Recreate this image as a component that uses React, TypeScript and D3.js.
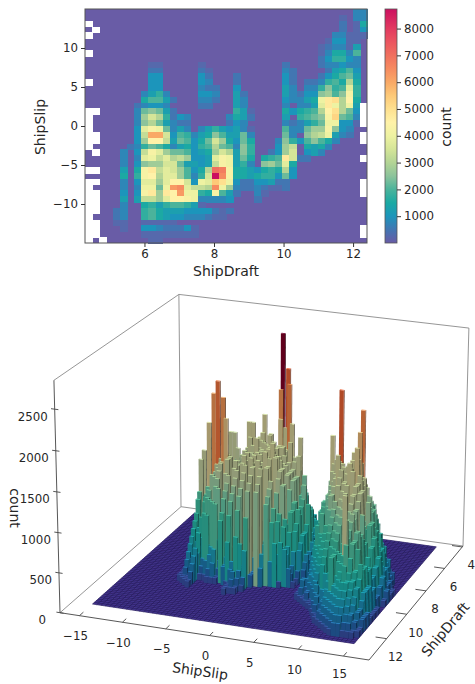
import React, { useEffect, useRef } from 'react';
import * as d3 from 'd3';

// --- heatmap data: 40 x 40 bins, one char per bin in base 36, unit 250 counts, "_" = empty bin
const heatUnit = 250;
const heatRows = [
  '0000000000 0000000000 0000000000 0000000033',
  '0000000000 0000000000 0000000000 0000001033',
  '_000000000 0000000000 0000000000 0000002016',
  '0_00000000 0000000000 0000000000 0000002014',
  '_000000000 0000000000 0000000000 0000033111',
  '0000000000 0000000000 0000000000 0000144110',
  '0000000000 0000000000 0000000000 0001233150',
  '_000000000 0000000000 0000000000 0001366380',
  '0000000000 0000000000 0000000000 0002477430',
  '0000000001 1000001000 0000000020 0002334330',
  '0000000002 2000002100 0000000032 0000256840',
  '0000000004 4000004200 0200000042 0002468950',
  '_000000004 4000004300 0200000042 0223786c60',
  '0000000004 4000003220 0400000053 0337a78f70',
  '0000000035 7300004430 0520000053 244ab8ah70',
  '0000000068 8520003320 0530000043 356gjkci60',
  '0000000234 4300002200 0530000030 335fjgcg5_',
  '__0000039a 9520000000 0751000064 678cikc94_',
  '_0000003be c724300000 3652000050 789ahl983_',
  '_0000003ac 9532200000 2430000032 3579gg441_',
  '_0000004fh g935303575 4531000083 39bbha4300',
  '__000004do oe487356a8 5593000093 0acdg5320_',
  '__000004bi id598469eb 64960003a7 48a863000_',
  '_000002379 86356478c9 83a70004bd 0656300000',
  '0_000304dh fb998456be c5a70024be 0453000000',
  '00000303fg dfcdb445fh g5960678je 220000000_',
  '00000304ab bee95545dh g5730ab9f6 0000000000',
  '__000506hj dfeb846csr h6654676c4 0000000000',
  '00000607hi cffb837ezq h665677494 0000000000',
  '__000304ff bfiie4gfmk g422445220 000000000_',
  '_0000303gg 9gpqfddcqg b322321120 000000000_',
  '__000404hj bjipgg76h8 5200310000 000000000_',
  '__000505dd bfiihg3333 4000200000 0000000000',
  '__00030067 5788751000 0000000000 0000000000',
  '__00230078 6555444421 2000000000 0000000000',
  '_000230078 6544333211 0000000000 0000000000',
  '__00110011 1110000000 0000000000 0000000000',
  '__00010044 3222410000 0000000000 000000000_',
  '__00000011 1111110000 0000000000 000000000_',
  '_0_0000001 1000000000 0000000000 0000000000',
];
const heatDraftDomain = [4.29, 12.4];
const heatSlipDomain = [-15, 15];
const heatDraftTicks = [6, 8, 10, 12];
const heatSlipTicks = [-10, -5, 0, 5, 10];
const countMax = 8730;
const countTicks = [1000, 2000, 3000, 4000, 5000, 6000, 7000, 8000];
const heatColorCounts = [0, 500, 1000, 1500, 2000, 2500, 3000, 3500, 4000, 4500, 5000, 5500, 6000, 6500, 7000, 7500, 8000, 8730];
const heatColors = ['#695ba6', '#4276b2', '#1c95bb', '#1aa9a3', '#4bb39b', '#8cc39b', '#b3d495', '#d5e598', '#eef2a2', '#fff2a8', '#fee08f', '#fdc978', '#f9a966', '#f68b60', '#f0705e', '#eb5560', '#e23a60', '#cc1060'];

// --- 3D histogram data: 60 x 60 bins, unit 80 counts. Rows run from draft bin 52 down to 2,
// and every row holds the slip bins 10..59
const barUnit = 80;
const barBins = 60;
const barFirstSlipBin = 10;
const barFirstDraftBin = 52;
const barRows = [
  '0001010212 1321132121 2101000000 0000000000 0000000000',
  '0001203143 2452143132 3120100000 0000000000 0000000000',
  '0002315263 6274165725 3412010000 0000000000 0000000000',
  '0001342657 3829485927 4625120100 0000000000 0000000000',
  '0001247396 a5b4a93a49 8374210100 0000000000 0000000000',
  '0001358a6b 6cd9c5b7ca 5994632000 0000000000 0000000000',
  '0005iie7cd 9ef6d8c5de 6a94632000 0000000000 0000000000',
  '0004a8ec6d e9fg7d8zgc cb58623100 0000000000 0000000000',
  '00039d7dc8 f7hmf9e5gg 9cb5864200 0000000000 0000000000',
  '000386d9ef b9hig8fciu e8cb575200 0000000000 0000000000',
  '000274c9fa llc8gdh8jk f9dc586300 0000000000 0000000000',
  '00016b7ec9 hd7jhcifrl sf9db57300 0000000000 0000000000',
  '000159c8hg cj8jk7kdi9 hmgke95741 0000000000 0000000000',
  '000156c9e8 h7icjbkj7h i8hfb69642 0000000000 0000000000',
  '0001487c9f g9h5ij6i9n i8gdb58531 1253647332 2100000000',
  '000137a5d9 f6gh9ij8ij j7gfd68532 2375596543 3321000000',
  '0001269b7d 9fg7ki8jij j8khic9643 59me6b9a87 6653210000',
  '0001258a6c d7ff9hh6ij 9ihgfc7a42 6bfh8cb7ca 9857432000',
  '000124796b c8ee9gg7i5 ih7gf9eb52 7c8if9cd7c b6a9864200',
  '0003art8ef g9fcgh7ijj i6hgf9c831 8c9hjuh9ee 7eca853100',
  '002ic8gh9g 7hgh9ih6jj ii8gf5b742 7b8fhj9gf9 fgeda74200',
  '001a6ef8ri h9gi6ij9ik j8hg9ca730 6b7eg9ji8g ch7db85200',
  '002hbn9gho i8hcji7j8k ljh9ecb741 59ce7hi9hi jsgec96310',
  '001c5df9h7 i6hci9j5ij 9jhf7b9630 48b7fh9j8j lk9fd67420',
  '001b6c8fg9 i7i8j5ic9k j7gf9b8520 37a9egl7ij 9pi9da7421',
  '00194bd8f6 g7h4i8j5i6 i7e6a85200 2695df8j6k mlh7da7421',
  '001875c6e9 5g7h4i6ij4 ig5b963100 15ac7f9i6k lni7eb8521',
  '0017594c7e 4f7g5h3i6i 6fca652000 13795d9h6j k8jcfc9631',
  '001636a5c6 4e6f3g5h4h 3ea5763100 12468a9e5i l8ihbca742',
  '0015273a5c 3d5e3f4g2g 5d47100000 02579b6f8i 7kih9ca742',
  '0014342345 2b4d2e3f2f 3000000000 01468a5e7h i5ihc79631',
  '0013251123 1a3b2c3b20 0000000000 0135795d6g h6hge59631',
  '0012140011 1037487600 0000000000 1334684c5f g5hf8a4520',
  '0011130000 0001313200 0000000000 1324574b5e f4gf5a8520',
  '0001120000 0000132100 0000000000 1213463a4d e4fe6b4520',
  '0000110000 0000121000 0000000000 011235394c d4ef5c3741',
  '0000010000 0000111000 0000000000 001214283b c3de5c6741',
  '0000000000 0000100000 0000000000 000113273a b3cd4d3741',
  '0000000000 0000000000 0000000000 0000114263 a3bc5d3851',
  '0000000000 0000000000 0000000000 0000013235 9a4f5c6851',
  '0000000000 0000000000 0000000000 0000002343 89aj6cb851',
  '0000000000 0000000000 0000000000 0000001324 7a9a5c8951',
  '0000000000 0000000000 0000000000 0000000213 6a79ca8752',
  '0000000000 0000000000 0000000000 0000000113 5a68987642',
  '0000000000 0000000000 0000000000 0000000012 4567677632',
  '0000000000 0000000000 0000000000 0000000012 3456776532',
  '0000000000 0000000000 0000000000 0000000001 2345665432',
  '0000000000 0000000000 0000000000 0000000000 1234554321',
  '0000000000 0000000000 0000000000 0000000000 0123443321',
  '0000000000 0000000000 0000000000 0000000000 0012332211',
  '0000000000 0000000000 0000000000 0000000000 0001221110',
];
const barSlipDomain = [-15, 15];
const barDraftDomain = [12.7, 4.3];
const barSlipTicks = [-15, -10, -5, 0, 5, 10, 15];
const barDraftTicks = [12, 10, 8, 6, 4];
const barCountTicks = [0, 500, 1000, 1500, 2000, 2500];
const barCountMax = 2844;
const barColorCounts = [0, 150, 350, 600, 900, 1100, 1300, 1800, 2000, 2200, 2400, 2600, 2800];
const barSideColors = ['#3a2c7a', '#1c4a80', '#14708c', '#1a8a80', '#2f8f78', '#5a9a80', '#8f9a78', '#a39c72', '#b08a5a', '#b86a3a', '#b04a28', '#8a1a20', '#60001e'];
const barCapColors = ['#4a3a90', '#2f7fc0', '#20a8c8', '#2cc0b0', '#50c8a0', '#90d8a0', '#c8e0a0', '#d8e4a0', '#f0d890', '#f8a860', '#ee6a40', '#c02040', '#70002a'];

const font = '"DejaVu Sans", sans-serif';
const textColor = '#262626';
const fmt = (v: number) => String(v).replace('-', '\u2212');

// square -> quad homography (front-left, front-right, back-right, back-left)
function squareToQuad(q: number[][]) {
  const [[x0, y0], [x1, y1], [x2, y2], [x3, y3]] = q;
  const dx1 = x1 - x2;
  const dx2 = x3 - x2;
  const dx3 = x0 - x1 + x2 - x3;
  const dy1 = y1 - y2;
  const dy2 = y3 - y2;
  const dy3 = y0 - y1 + y2 - y3;
  const den = dx1 * dy2 - dx2 * dy1;
  const g = (dx3 * dy2 - dx2 * dy3) / den;
  const h = (dx1 * dy3 - dx3 * dy1) / den;
  return { a: x1 - x0 + g * x1, b: x3 - x0 + h * x3, c: x0, d: y1 - y0 + g * y1, e: y3 - y0 + h * y3, f: y0, g, h };
}

const App = () => {
  const svgRef = useRef<SVGSVGElement>(null);

  useEffect(() => {
    const svg = d3.select(svgRef.current);
    svg.selectAll('*').remove();

    const defs = svg.append('defs');
    defs.append('filter').attr('id', 'soft').append('feGaussianBlur').attr('stdDeviation', 0.5);
    defs.append('filter').attr('id', 'soft3d').append('feGaussianBlur').attr('stdDeviation', 0.3);

    // ---------- top panel: heatmap ----------
    const plot = { left: 85, right: 367, top: 9, bottom: 243 };
    const x = d3.scaleLinear().domain(heatDraftDomain).range([plot.left, plot.right]);
    const y = d3.scaleLinear().domain(heatSlipDomain).range([plot.bottom, plot.top]);
    const color = d3.scaleLinear<string>().domain(heatColorCounts).range(heatColors);

    const cols = d3.scaleBand<number>().domain(d3.range(40)).range([plot.left, plot.right]);
    const rows = d3.scaleBand<number>().domain(d3.range(40)).range([plot.top, plot.bottom]);
    const heatCells = heatRows.flatMap((row, r) =>
      row.replace(/ /g, '').split('').map((ch, c) => ({ r, c, empty: ch === '_', v: parseInt(ch, 36) * heatUnit }))
    );

    const heat = svg.append('g').attr('filter', 'url(#soft)');
    heat
      .append('rect')
      .attr('x', plot.left)
      .attr('y', plot.top)
      .attr('width', plot.right - plot.left)
      .attr('height', plot.bottom - plot.top)
      .attr('fill', color(0));
    heat
      .selectAll('rect.cell')
      .data(heatCells.filter((d) => d.empty || d.v > 0))
      .enter()
      .append('rect')
      .attr('class', 'cell')
      .attr('x', (d) => cols(d.c))
      .attr('y', (d) => rows(d.r))
      .attr('width', cols.bandwidth() + 0.7)
      .attr('height', rows.bandwidth() + 0.7)
      .attr('shape-rendering', 'crispEdges')
      .attr('fill', (d) => (d.empty ? '#ffffff' : color(d.v)));

    svg
      .append('rect')
      .attr('x', plot.left)
      .attr('y', plot.top)
      .attr('width', plot.right - plot.left)
      .attr('height', plot.bottom - plot.top)
      .attr('fill', 'none')
      .attr('stroke', '#555')
      .attr('stroke-width', 1);

    const xAxis = svg.append('g').attr('transform', `translate(0,${plot.bottom})`).call(d3.axisBottom(x).tickValues(heatDraftTicks).tickSize(4).tickFormat((d) => fmt(+d)));
    const yAxis = svg.append('g').attr('transform', `translate(${plot.left},0)`).call(d3.axisLeft(y).tickValues(heatSlipTicks).tickSize(4).tickFormat((d) => fmt(+d)));
    [xAxis, yAxis].forEach((a) => {
      a.select('.domain').remove();
      a.selectAll('text').attr('font-family', font).attr('font-size', 11.8).attr('fill', textColor);
      a.selectAll('line').attr('stroke', '#333');
    });

    const addLabel = (label: string, lx: number, ly: number, angle: number, size = 14) =>
      svg
        .append('text')
        .attr('transform', `translate(${lx},${ly}) rotate(${angle})`)
        .attr('text-anchor', 'middle')
        .attr('dominant-baseline', 'middle')
        .attr('font-family', font)
        .attr('font-size', size)
        .attr('fill', textColor)
        .text(label);

    addLabel('ShipDraft', 226, 272, 0);
    addLabel('ShipSlip', 40.5, 127, -90);

    // colorbar
    const bar = { left: 385, right: 397 };
    const gradient = defs.append('linearGradient').attr('id', 'count-gradient').attr('x1', '0%').attr('y1', '100%').attr('x2', '0%').attr('y2', '0%');
    heatColors.forEach((c, i) => {
      gradient.append('stop').attr('offset', `${(heatColorCounts[i] / countMax) * 100}%`).attr('stop-color', c);
    });
    svg
      .append('rect')
      .attr('x', bar.left)
      .attr('y', plot.top)
      .attr('width', bar.right - bar.left)
      .attr('height', plot.bottom - plot.top)
      .attr('fill', 'url(#count-gradient)')
      .attr('stroke', '#555')
      .attr('stroke-width', 0.8);
    const cScale = d3.scaleLinear().domain([0, countMax]).range([plot.bottom, plot.top]);
    const cAxis = svg.append('g').attr('transform', `translate(${bar.right},0)`).call(d3.axisRight(cScale).tickValues(countTicks).tickSize(4).tickFormat((d) => String(d)));
    cAxis.select('.domain').remove();
    cAxis.selectAll('text').attr('font-family', font).attr('font-size', 11.8).attr('fill', textColor);
    cAxis.selectAll('line').attr('stroke', '#333');
    addLabel('count', 447, 127, -90);

    // ---------- bottom panel: 3D bars ----------
    const floorQuad = [[60, 612.7], [369, 660], [463, 546], [181, 506.7]];
    const topQuad = [[54, 384], null, [469, 324], [178, 295]];
    const H = squareToQuad(floorQuad);
    const vanish = [257, 8150];
    const homog = (u: number, v: number) => ({
      X: H.a * u + H.b * v + H.c,
      Y: H.d * u + H.e * v + H.f,
      W: H.g * u + H.h * v + 1,
    });
    // strength of the vertical direction, fitted on the three visible top corners
    const corners = [[0, 0, 0], [2, 1, 1], [3, 0, 1]];
    const k = d3.mean(corners, ([i, u, v]) => {
      const p = homog(u, v);
      const topY = (topQuad[i] as number[])[1];
      return (p.W * topY - p.Y) / (vanish[1] - topY);
    }) as number;
    const project = (u: number, v: number, w: number): [number, number] => {
      const p = homog(u, v);
      const W = p.W + w * k;
      return [(p.X + w * k * vanish[0]) / W, (p.Y + w * k * vanish[1]) / W];
    };

    const uScale = d3.scaleLinear().domain(barSlipDomain).range([0.065, 0.92]);
    const vScale = d3.scaleLinear().domain(barDraftDomain).range([0.1, 0.96]);
    const wScale = d3.scaleLinear().domain([0, barCountMax]).range([0, 1]);
    const slipEdge = d3.scaleLinear().domain([0, barBins]).range(barSlipDomain);
    const draftEdge = d3.scaleLinear().domain([0, barBins]).range(barDraftDomain);

    const pts = (list: [number, number, number][]) => `M${list.map((p) => project(p[0], p[1], p[2]).join(',')).join('L')}Z`;
    const seg = (a: [number, number, number], b: [number, number, number]) => `M${project(...a).join(',')}L${project(...b).join(',')}`;

    const box = svg.append('g').attr('fill', 'none').attr('stroke', '#8a8a8a').attr('stroke-width', 0.9);
    const boxLines: [number, number, number][][] = [
      [[0, 0, 1], [0, 1, 1]],
      [[0, 1, 1], [1, 1, 1]],
      [[1, 1, 1], [1, 1, 0]],
      [[0, 1, 1], [0, 1, 0]],
      [[0, 1, 0], [1, 1, 0]],
      [[0, 1, 0], [0, 0, 0]],
    ];
    boxLines.forEach(([a, b]) => box.append('path').attr('d', seg(a, b)));

    // floor of the histogram
    const u0 = uScale(barSlipDomain[0]);
    const u1 = uScale(barSlipDomain[1]);
    const v0 = vScale(barDraftDomain[0]);
    const v1 = vScale(barDraftDomain[1]);
    const floor = svg.append('g').attr('filter', 'url(#soft3d)');
    floor
      .append('path')
      .attr('d', pts([[u0, v0, 0], [u1, v0, 0], [u1, v1, 0], [u0, v1, 0]]))
      .attr('fill', '#443690');
    d3.range(barBins + 1).forEach((n) => {
      const u = uScale(slipEdge(n));
      const v = vScale(draftEdge(n));
      floor.append('path').attr('d', seg([u, v0, 0], [u, v1, 0])).attr('stroke', '#271c5c').attr('stroke-width', 0.7);
      floor.append('path').attr('d', seg([u0, v, 0], [u1, v, 0])).attr('stroke', '#271c5c').attr('stroke-width', 0.7);
    });

    const sideColor = d3.scaleLinear<string>().domain(barColorCounts).range(barSideColors);
    const capColor = d3.scaleLinear<string>().domain(barColorCounts).range(barCapColors);
    const barCells = barRows
      .flatMap((row, r) =>
        row.replace(/ /g, '').split('').map((ch, c) => ({
          slipBin: barFirstSlipBin + c,
          draftBin: barFirstDraftBin - r,
          count: parseInt(ch, 36) * barUnit,
        }))
      )
      .filter((d) => d.count > 0)
      .sort((a, b) => b.draftBin - a.draftBin || a.slipBin - b.slipBin);

    const darken = (base: string, factor: number) => {
      const c = d3.rgb(base);
      return d3.rgb(c.r * factor, c.g * factor, c.b * factor).formatHex();
    };
    const bars = svg.append('g').attr('filter', 'url(#soft3d)');
    barCells.forEach((d) => {
      const a = uScale(slipEdge(d.slipBin));
      const b = uScale(slipEdge(d.slipBin + 1));
      const n = vScale(draftEdge(d.draftBin + 0.2));
      const f = vScale(draftEdge(d.draftBin + 0.7));
      const h = wScale(d.count);
      const side = sideColor(d.count);
      const g = bars.append('g');
      // side facing +slip
      g.append('path').attr('d', pts([[b, n, 0], [b, f, 0], [b, f, h], [b, n, h]])).attr('fill', darken(side, 0.5));
      // side facing the viewer
      g.append('path').attr('d', pts([[a, n, 0], [b, n, 0], [b, n, h], [a, n, h]])).attr('fill', side);
      g.append('path').attr('d', pts([[a, n, h], [b, n, h], [b, f, h], [a, f, h]])).attr('fill', capColor(d.count));
    });

    // axis lines and ticks
    const axis = svg.append('g').attr('stroke', '#444').attr('stroke-width', 0.9).attr('fill', 'none');
    axis.append('path').attr('d', seg([0, 0, 0], [0, 0, 1]));
    axis.append('path').attr('d', seg([0, 0, 0], [1, 0, 0]));
    axis.append('path').attr('d', seg([1, 0, 0], [1, 1, 0]));

    const tickLabel = (label: string, p: [number, number], anchor = 'middle') =>
      svg
        .append('text')
        .attr('x', p[0])
        .attr('y', p[1])
        .attr('text-anchor', anchor)
        .attr('dominant-baseline', 'middle')
        .attr('font-family', font)
        .attr('font-size', 11.8)
        .attr('fill', textColor)
        .text(label);

    barCountTicks.forEach((t) => {
      const w = wScale(t);
      axis.append('path').attr('d', seg([-0.012, 0, w], [0.012, 0, w]));
      const [px, py] = project(0, 0, w);
      tickLabel(String(t), [px - 7 - (t === 0 ? 7 : 0), py + 8], 'end');
    });
    barSlipTicks.forEach((t) => {
      const u = uScale(t);
      axis.append('path').attr('d', seg([u, 0, 0], [u, 0.03, 0]));
      const [px, py] = project(u, 0, 0);
      tickLabel(fmt(t), [px - 4, py + 21 - (t === 15 ? 3 : 0)]);
    });
    barDraftTicks.forEach((t) => {
      const v = vScale(t);
      axis.append('path').attr('d', seg([1, v, 0], [0.965, v, 0]));
      const [px, py] = project(1, v, 0);
      tickLabel(String(t), [px + 9, py + 19]);
    });

    addLabel('count', 14, 508, 90);
    addLabel('ShipSlip', 200, 672, 8);
    addLabel('ShipDraft', 446, 630, -50);
  }, []);

  return <svg ref={svgRef} width={475} height={684} style={{ position: 'absolute', left: 0, top: 0, background: '#fff' }} />;
};

export default App;
